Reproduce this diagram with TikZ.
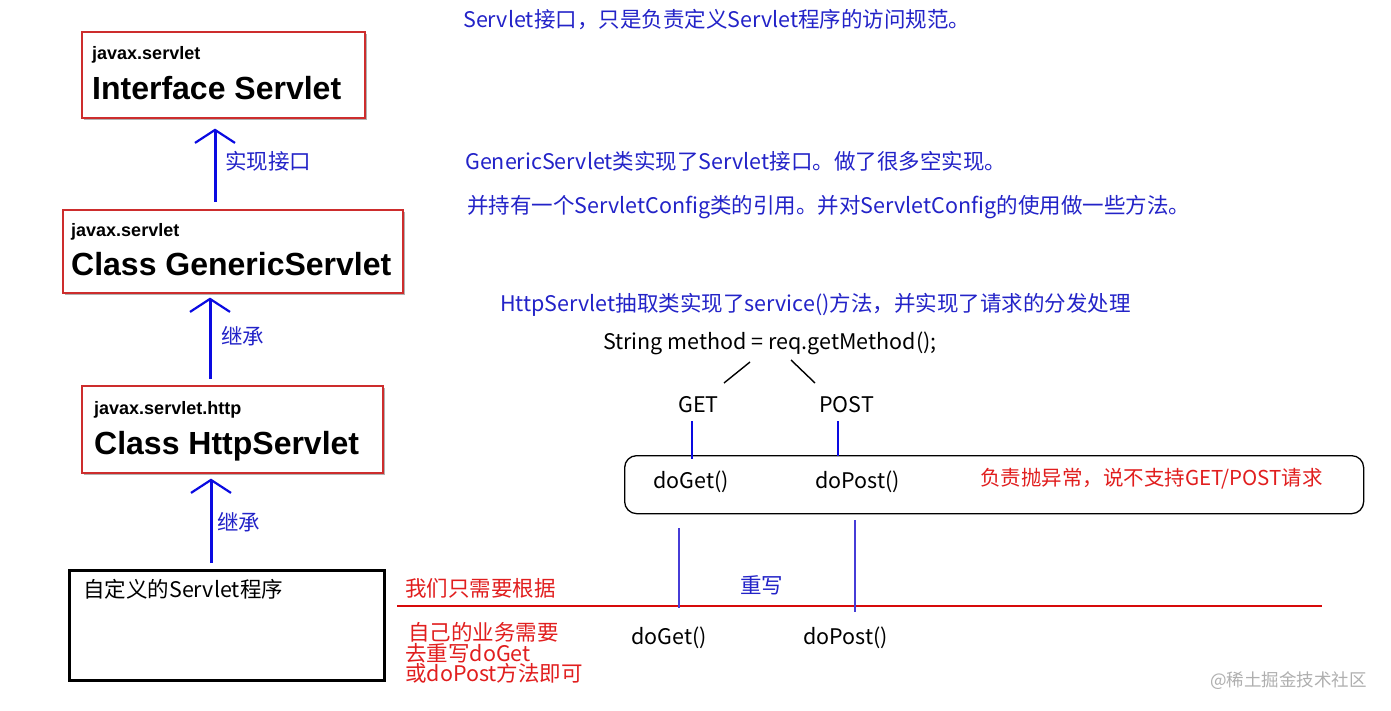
\documentclass[tikz,border=0pt]{standalone}
\usepackage{fontspec}
\setmainfont{Liberation Sans}
\newfontfamily\cjk{Noto Sans CJK SC}
\usetikzlibrary{arrows.meta,shadows}
\definecolor{boxred}{RGB}{205,45,45}
\definecolor{txtblue}{RGB}{35,35,200}
\definecolor{arrblue}{RGB}{10,10,225}
\definecolor{txtred}{RGB}{225,30,30}
\definecolor{linered}{RGB}{215,10,10}
\definecolor{thinblue}{RGB}{70,60,215}
\definecolor{wm}{RGB}{175,175,175}
\begin{document}
\begin{tikzpicture}[x=1pt,y=-1pt,
 rbox/.style={draw=boxred,line width=1.6pt,fill=white,anchor=north west,inner sep=0pt,
   drop shadow={shadow xshift=2.5pt,shadow yshift=-2.5pt,opacity=0.3,fill=black}},
 pkg/.style={anchor=base west,inner sep=0pt,font=\bfseries\fontsize{18}{20}\selectfont},
 cls/.style={anchor=base west,inner sep=0pt,font=\bfseries\fontsize{32}{36}\selectfont},
 cn/.style={anchor=base west,inner sep=0pt,font=\cjk\fontsize{21.5}{24}\selectfont},
 bluetxt/.style={cn,text=txtblue},
 redtxt/.style={cn,text=txtred},
 arr/.style={draw=arrblue,line width=3pt,-{Straight Barb[length=13pt,width=40pt,line width=2.2pt]}},
 thin/.style={draw=thinblue,line width=1.1pt},
 mid/.style={draw=arrblue,line width=2.2pt},
 blk/.style={draw=black,line width=1.4pt}
]
\useasboundingbox (0,0) rectangle (1391,711);
\fill[white] (0,0) rectangle (1391,711);

% class boxes
\node[rbox,minimum width=283pt,minimum height=86pt] (iface) at (81,31) {};
\node[pkg] (iface-p) at (92,60) {javax.servlet};
\node[cls] (iface-c) at (92,100) {Interface Servlet};

\node[rbox,minimum width=340pt,minimum height=83pt] (gen) at (62,209) {};
\node[pkg] (gen-p) at (71,237) {javax.servlet};
\node[cls] (gen-c) at (71,276) {Class GenericServlet};

\node[rbox,minimum width=301pt,minimum height=87pt] (http) at (81,385) {};
\node[pkg] (http-p) at (94,414) {javax.servlet.http};
\node[cls] (http-c) at (94,454) {Class HttpServlet};

\node[draw=black,line width=3pt,anchor=north west,minimum width=315pt,minimum height=110pt,inner sep=0pt] (mine) at (68,569) {};
\node[cn] (mine-t) at (83,597) {自定义的Servlet程序};

% inheritance arrows
\coordinate (a1) at (215,0);
\coordinate (a2) at (210,0);
\coordinate (a3) at (211,0);
\draw[arr,shorten <=7pt,shorten >=10pt] (gen.north -| a1) -- (iface.south -| a1);
\draw[arr,shorten <=6pt,shorten >=4pt] (http.north -| a2) -- (gen.south -| a2);
\draw[arr,shorten <=6pt,shorten >=5pt] (mine.north -| a3) -- (http.south -| a3);
\node[bluetxt] (l1) at (225,170) {实现接口};
\node[bluetxt] (l2) at (221,344) {继承};
\node[bluetxt] (l3) at (217,530) {继承};

% right texts
\node[bluetxt] (t1) at (463,28) {Servlet接口，只是负责定义Servlet程序的访问规范。};
\node[bluetxt] (t2) at (465,170) {GenericServlet类实现了Servlet接口。做了很多空实现。};
\node[bluetxt] (t3) at (467,214) {并持有一个ServletConfig类的引用。并对ServletConfig的使用做一些方法。};
\node[bluetxt] (t4) at (500,311) {HttpServlet抽取类实现了service()方法，并实现了请求的分发处理};
\node[cn] (code) at (603,349) {String method = req.getMethod();};

\node[cn] (get) at (678,412) {GET};
\node[cn] (post) at (819,412) {POST};
\coordinate (s1) at (750,362); \coordinate (e1) at (724,383);
\coordinate (s2) at (791,360); \coordinate (e2) at (815,383);
\draw[blk] (s1) -- (e1);
\draw[blk] (s2) -- (e2);

\node[draw=black,line width=1.3pt,rounded corners=12pt,anchor=north west,minimum width=739pt,minimum height=58pt,inner sep=0pt] (disp) at (624,455) {};
\coordinate (g1) at (692,421); \coordinate (g2) at (692,459);
\coordinate (p1) at (838,421); \coordinate (p2) at (838,456);
\draw[mid] (g1) -- (g2);
\draw[mid] (p1) -- (p2);
\node[cn] (doget1) at (653,488) {doGet()};
\node[cn] (dopost1) at (815,488) {doPost()};
\node[redtxt,font=\cjk\fontsize{20.5}{24}\selectfont] (err) at (980,485) {负责抛异常，说不支持GET/POST请求};

% override section
\coordinate (r1) at (397,606); \coordinate (r2) at (1322,606);
\draw[draw=linered,line width=1.2pt] (r1) -- (r2);
\coordinate (v1a) at (679,528); \coordinate (v1b) at (679,608);
\coordinate (v2a) at (855,520); \coordinate (v2b) at (855,612);
\draw[thin] (v1a) -- (v1b);
\draw[thin] (v2a) -- (v2b);
\node[bluetxt] (ow) at (740,593) {重写};
\node[redtxt] (n1) at (405,596) {我们只需要根据};
\node[redtxt] (n2) at (408,640) {自己的业务需要};
\node[redtxt] (n3) at (405,661) {去重写doGet};
\node[redtxt] (n4) at (405,681) {或doPost方法即可};
\node[cn] (doget2) at (631,644) {doGet()};
\node[cn] (dopost2) at (803,644) {doPost()};

\node[anchor=base west,inner sep=0pt,font=\cjk\fontsize{17.5}{20}\selectfont,text=wm] (wmk) at (1210,686) {@稀土掘金技术社区};
\end{tikzpicture}
\end{document}
